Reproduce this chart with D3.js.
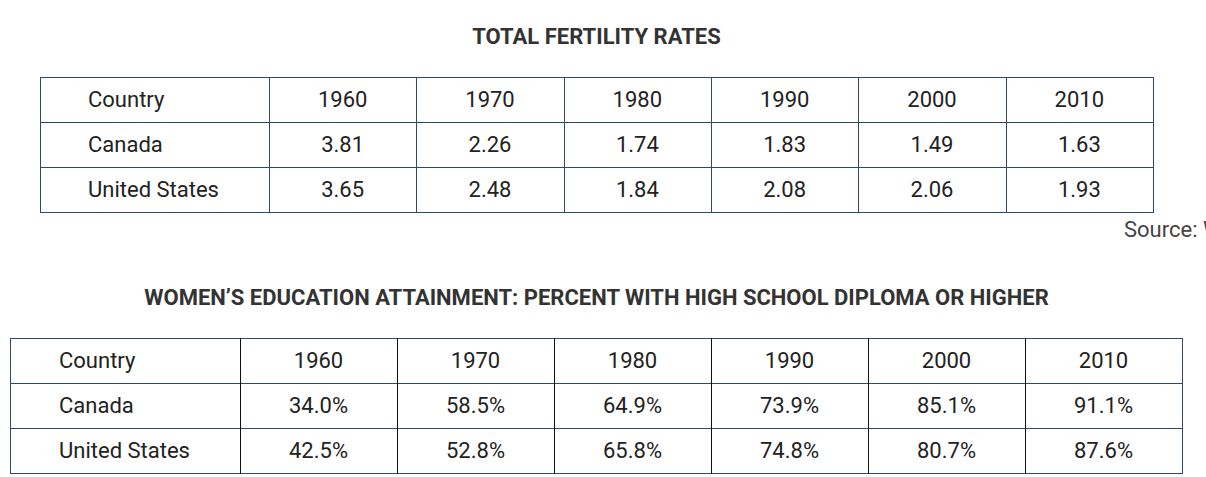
<!DOCTYPE html>
<html>
<head>
<meta charset="utf-8">
<script src="https://cdn.jsdelivr.net/npm/d3@7"></script>
<style>
	html, body { margin: 0; padding: 0; background: #fff; overflow: hidden; }
	svg { display: block; font-family: Roboto, "Noto Sans", sans-serif; }
</style>
</head>
<body>
<div id="chart"></div>
<script>
// data
var years = ['1960', '1970', '1980', '1990', '2000', '2010'];
var countries = ['Canada', 'United States'];
var fertilityCanada = [3.81, 2.26, 1.74, 1.83, 1.49, 1.63];
var fertilityUS = [3.65, 2.48, 1.84, 2.08, 2.06, 1.93];
var educationCanada = [34.0, 58.5, 64.9, 73.9, 85.1, 91.1];
var educationUS = [42.5, 52.8, 65.8, 74.8, 80.7, 87.6];
var titles = ['TOTAL FERTILITY RATES', 'WOMEN\u2019S EDUCATION ATTAINMENT: PERCENT WITH HIGH SCHOOL DIPLOMA OR HIGHER'];
var sourceText = 'Source: World Bank';

var width = 1206, height = 477;
var blue = '#2e4a6a';

var svg = d3.select('#chart').append('svg')
	.attr('width', width)
	.attr('height', height);

// draws one table
function drawTable(opts) {
	var g = svg.append('g');
	var rows = [['Country'].concat(years)];
	countries.forEach(function(c, i) {
		rows.push([c].concat(opts.values[i].map(opts.fmt)));
	});

	var yScale = d3.scaleBand()
		.domain(d3.range(rows.length))
		.range([opts.top, opts.top + 45 * rows.length]);

	var xScale = d3.scaleBand()
		.domain(years)
		.range([opts.left + opts.firstCol, opts.right]);

	var colLeft = function(j) { return j === 0 ? opts.left : xScale(years[j - 1]); };
	var colRight = function(j) { return j === 0 ? opts.left + opts.firstCol : xScale(years[j - 1]) + xScale.bandwidth(); };

	// title
	g.append('text')
		.attr('x', 596.5)
		.attr('y', opts.titleY)
		.attr('text-anchor', 'middle')
		.attr('font-size', 22)
		.attr('font-weight', 700)
		.attr('fill', '#333')
		.text(opts.title);

	// horizontal lines
	g.selectAll('line.h-line')
		.data(d3.range(rows.length + 1))
		.enter()
		.append('line')
		.attr('class', 'h-line')
		.attr('x1', opts.left)
		.attr('x2', opts.right)
		.attr('y1', function(d) { return Math.round(yScale.range()[0] + d * yScale.step()) + 0.5; })
		.attr('y2', function(d) { return Math.round(yScale.range()[0] + d * yScale.step()) + 0.5; })
		.attr('stroke', blue)
		.attr('stroke-width', 1);

	// vertical lines
	var vx = [opts.left, opts.left + opts.firstCol].concat(years.map(function(y) { return xScale(y) + xScale.bandwidth(); }));
	g.selectAll('line.v-line')
		.data(vx)
		.enter()
		.append('line')
		.attr('class', 'v-line')
		.attr('x1', function(d) { return Math.round(d) + 0.5; })
		.attr('x2', function(d) { return Math.round(d) + 0.5; })
		.attr('y1', yScale.range()[0])
		.attr('y2', yScale.range()[1] + 1)
		.attr('stroke', function(d, i) { return (i === 0 || i === vx.length - 1) ? blue : opts.innerColor; })
		.attr('stroke-width', 1);

	// cells
	rows.forEach(function(r, i) {
		g.selectAll('text.cell-' + i)
			.data(r)
			.enter()
			.append('text')
			.attr('class', 'cell-' + i)
			.attr('x', function(d, j) { return j === 0 ? colLeft(0) + opts.pad : (colLeft(j) + colRight(j)) / 2; })
			.attr('y', yScale(i) + yScale.bandwidth() / 2)
			.attr('dy', '0.36em')
			.attr('text-anchor', function(d, j) { return j === 0 ? 'start' : 'middle'; })
			.attr('font-size', 22)
			.attr('fill', '#222')
			.text(function(d) { return d; });
	});
}

drawTable({
	title: titles[0], titleY: 44,
	left: 40, right: 1153, firstCol: 229, top: 77, pad: 48,
	values: [fertilityCanada, fertilityUS],
	fmt: function(v) { return v.toFixed(2); },
	innerColor: blue
});

// source line runs past the right edge, as in the original
svg.append('text')
	.attr('x', 1124)
	.attr('y', 237)
	.attr('font-size', 22)
	.attr('fill', '#444')
	.text(sourceText);

drawTable({
	title: titles[1], titleY: 305,
	left: 10, right: 1182, firstCol: 230, top: 338, pad: 49,
	values: [educationCanada, educationUS],
	fmt: function(v) { return v.toFixed(1) + '%'; },
	innerColor: '#111'
});
</script>
</body>
</html>
